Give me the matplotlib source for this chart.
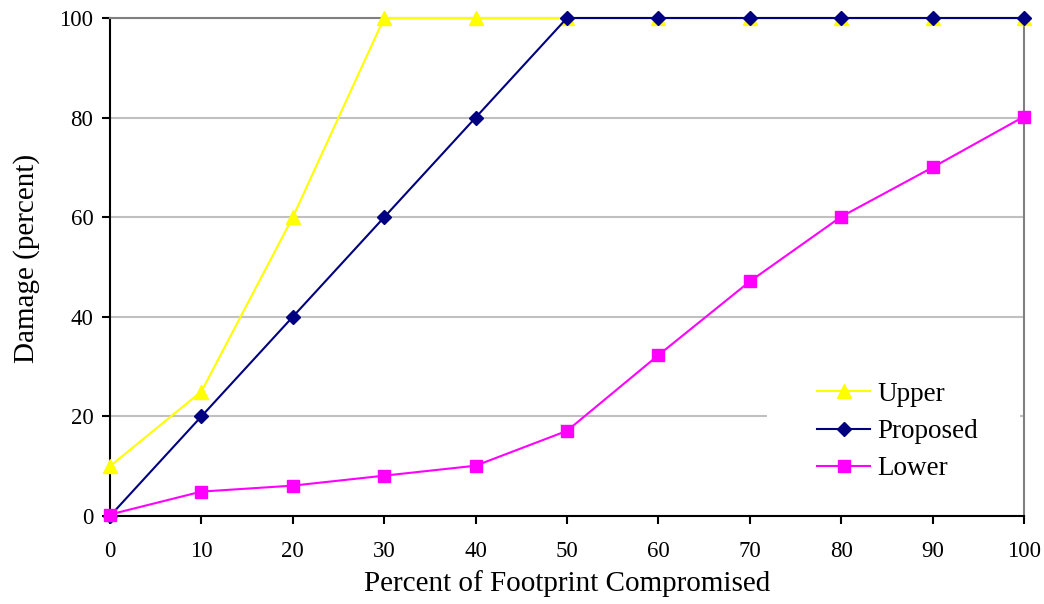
import numpy as np
import matplotlib.pyplot as plt
from matplotlib.patches import Rectangle

# damage curves vs. percent of footprint compromised
x_pct = [0, 10, 20, 30, 40, 50, 60, 70, 80, 90, 100]
upper = [10, 25, 60, 100, 100, 100, 100, 100, 100, 100, 100]
proposed = [0, 20, 40, 60, 80, 100, 100, 100, 100, 100, 100]
lower = [0.3, 4.9, 6.1, 8.1, 10.1, 17.1, 32.3, 47.1, 60.1, 70.0, 80.2]

plt.rcParams['font.family'] = ['Liberation Serif', 'DejaVu Serif']

fig = plt.figure(figsize=(10.44, 6.04), dpi=100)
ax = fig.add_axes([110 / 1044, 1 - 516 / 604, 914 / 1044, 498 / 604])

ax.plot(x_pct, upper, color='#ffff00', lw=1.5, marker='^', ms=10,
        label='Upper', clip_on=False, zorder=3)
ax.plot(x_pct, proposed, color='#000080', lw=1.5, marker='D', ms=7.5,
        label='Proposed', clip_on=False, zorder=4)
ax.plot(x_pct, lower, color='#ff00ff', lw=1.5, marker='s', ms=8,
        label='Lower', clip_on=False, zorder=5)

ax.set_xlim(0, 100)
ax.set_ylim(0, 100)
ax.set_xticks(np.arange(0, 101, 10))
ax.set_yticks(np.arange(0, 101, 20))
ax.yaxis.grid(True, color='#c0c0c0', lw=1.5)
ax.set_axisbelow(True)

for side in ['left', 'bottom']:
    ax.spines[side].set_color('black')
    ax.spines[side].set_linewidth(1.5)
for side in ['right', 'top']:
    ax.spines[side].set_color('#808080')
    ax.spines[side].set_linewidth(1.5)

ax.tick_params(axis='both', direction='out', length=6, width=1.5,
               labelsize=16.5, colors='black')
ax.tick_params(axis='x', pad=12)
ax.tick_params(axis='y', pad=6)
ax.set_xlabel('Percent of Footprint Compromised', fontsize=21, labelpad=6)
ax.set_ylabel('Damage (percent)', fontsize=21, labelpad=14)
ax.yaxis.label.set_y(0.518)

# white legend area, covering the gridline behind it
ax.add_patch(Rectangle((0.719, 0.022), 0.2766, 0.33, transform=ax.transAxes,
                       facecolor='white', edgecolor='none', zorder=1))

leg = ax.legend(loc='upper left', bbox_to_anchor=(0.7735, 0.27), fontsize=19.5,
                frameon=False, handlelength=1.96, handletextpad=0.28,
                labelspacing=0.46, borderpad=0, borderaxespad=0)

fig.savefig('out.png', dpi=100)
